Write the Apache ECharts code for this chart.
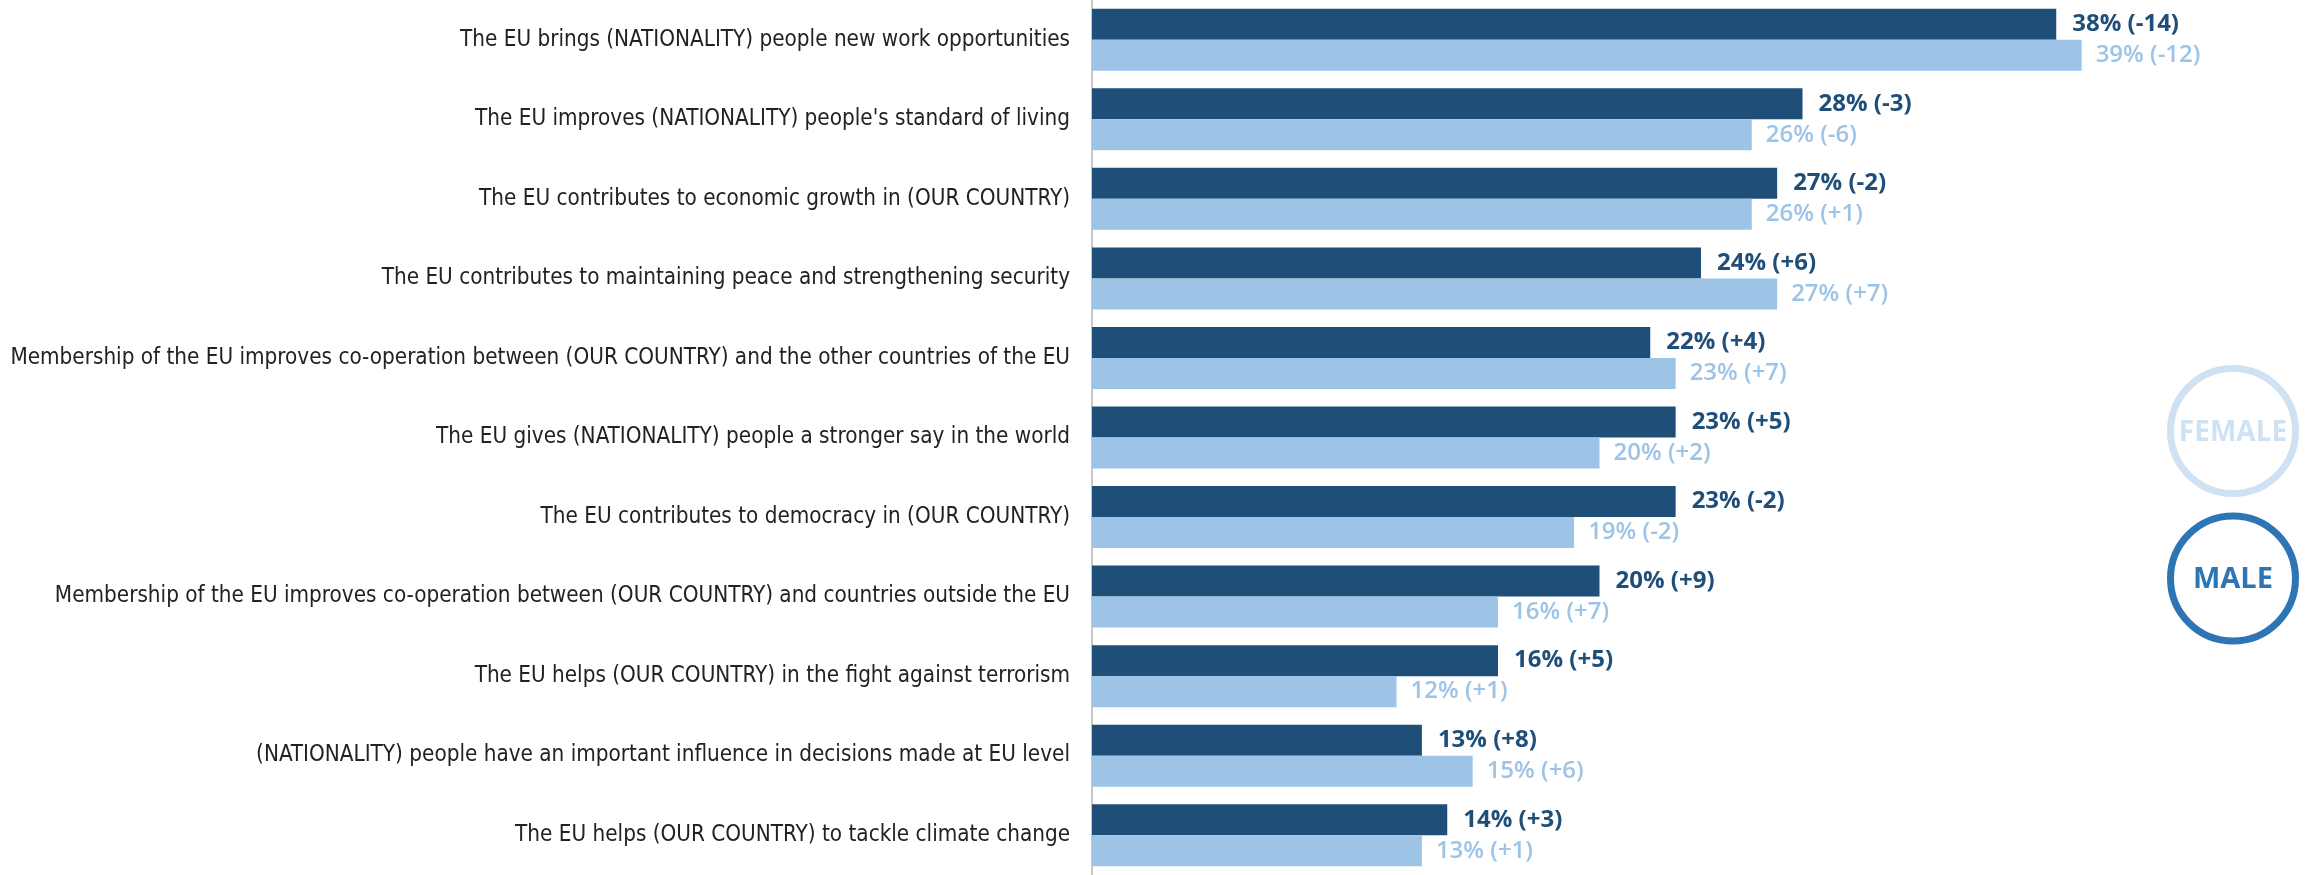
<!DOCTYPE html>
<html>
<head>
<meta charset="utf-8">
<script src="https://cdn.jsdelivr.net/npm/echarts@6/dist/echarts.min.js"></script>
<style>
html,body{margin:0;padding:0;background:#fff;}
#chart{width:2311px;height:875px;}
</style>
</head>
<body>
<div id="chart"></div>
<script>
const categories = [
  "The EU brings (NATIONALITY) people new work opportunities",
  "The EU improves (NATIONALITY) people's standard of living",
  "The EU contributes to economic growth in (OUR COUNTRY)",
  "The EU contributes to maintaining peace and strengthening security",
  "Membership of the EU improves co-operation between (OUR COUNTRY) and the other countries of the EU",
  "The EU gives (NATIONALITY) people a stronger say in the world",
  "The EU contributes to democracy in (OUR COUNTRY)",
  "Membership of the EU improves co-operation between (OUR COUNTRY) and countries outside the EU",
  "The EU helps (OUR COUNTRY) in the fight against terrorism",
  "(NATIONALITY) people have an important influence in decisions made at EU level",
  "The EU helps (OUR COUNTRY) to tackle climate change"
];
const maleValues = [38, 28, 27, 24, 22, 23, 23, 20, 16, 13, 14];
const maleChanges = ["-14", "-3", "-2", "+6", "+4", "+5", "-2", "+9", "+5", "+8", "+3"];
const femaleValues = [39, 26, 26, 27, 23, 20, 19, 16, 12, 15, 13];
const femaleChanges = ["-12", "-6", "+1", "+7", "+7", "+2", "-2", "+7", "+1", "+6", "+1"];

const DARK = '#1F4E79';
const LIGHT = '#9DC3E6';

const chart = echarts.init(document.getElementById('chart'));
chart.setOption({
  animation: false,
  backgroundColor: '#fff',
  grid: { left: 1092, width: 1218, top: 0, bottom: 0, containLabel: false, outerBoundsMode: 'none' },
  xAxis: { type: 'value', min: 0, max: 48, show: false, splitLine: { show: false } },
  yAxis: {
    type: 'category',
    inverse: true,
    data: categories,
    axisLine: { show: true, lineStyle: { color: '#C8C8C8', width: 2 } },
    axisTick: { show: false },
    splitLine: { show: false },
    axisLabel: {
      margin: 22,
      fontSize: 22.3,
      fontFamily: '"DejaVu Sans Condensed", sans-serif',
      color: '#222'
    }
  },
  series: [
    {
      name: 'MALE', type: 'bar', data: maleValues, barWidth: 31, barGap: '0%',
      itemStyle: { color: DARK },
      label: {
        show: true, position: 'right', distance: 16,
        fontFamily: '"Open Sans", sans-serif', fontWeight: 'bold', fontSize: 24, color: DARK,
        formatter: p => maleValues[p.dataIndex] + '% (' + maleChanges[p.dataIndex] + ')'
      }
    },
    {
      name: 'FEMALE', type: 'bar', data: femaleValues, barWidth: 31, barGap: '0%',
      itemStyle: { color: LIGHT },
      label: {
        show: true, position: 'right', distance: 14,
        fontFamily: '"Open Sans", sans-serif', fontWeight: 600, fontSize: 24, color: LIGHT,
        formatter: p => femaleValues[p.dataIndex] + '% (' + femaleChanges[p.dataIndex] + ')'
      }
    }
  ],
  graphic: [
    { type: 'circle', shape: { cx: 2233, cy: 431, r: 62.5 }, style: { fill: 'none', stroke: '#CFE2F3', lineWidth: 7 } },
    { type: 'text', x: 2233, y: 433, style: { text: 'FEMALE', fill: '#CFE2F3', font: 'bold 28px "Open Sans", sans-serif', align: 'center', verticalAlign: 'middle' } },
    { type: 'circle', shape: { cx: 2233, cy: 578.5, r: 62.5 }, style: { fill: 'none', stroke: '#2E75B6', lineWidth: 7 } },
    { type: 'text', x: 2233, y: 580, style: { text: 'MALE', fill: '#2E75B6', font: 'bold 29px "Open Sans", sans-serif', align: 'center', verticalAlign: 'middle' } }
  ]
});
</script>
</body>
</html>
